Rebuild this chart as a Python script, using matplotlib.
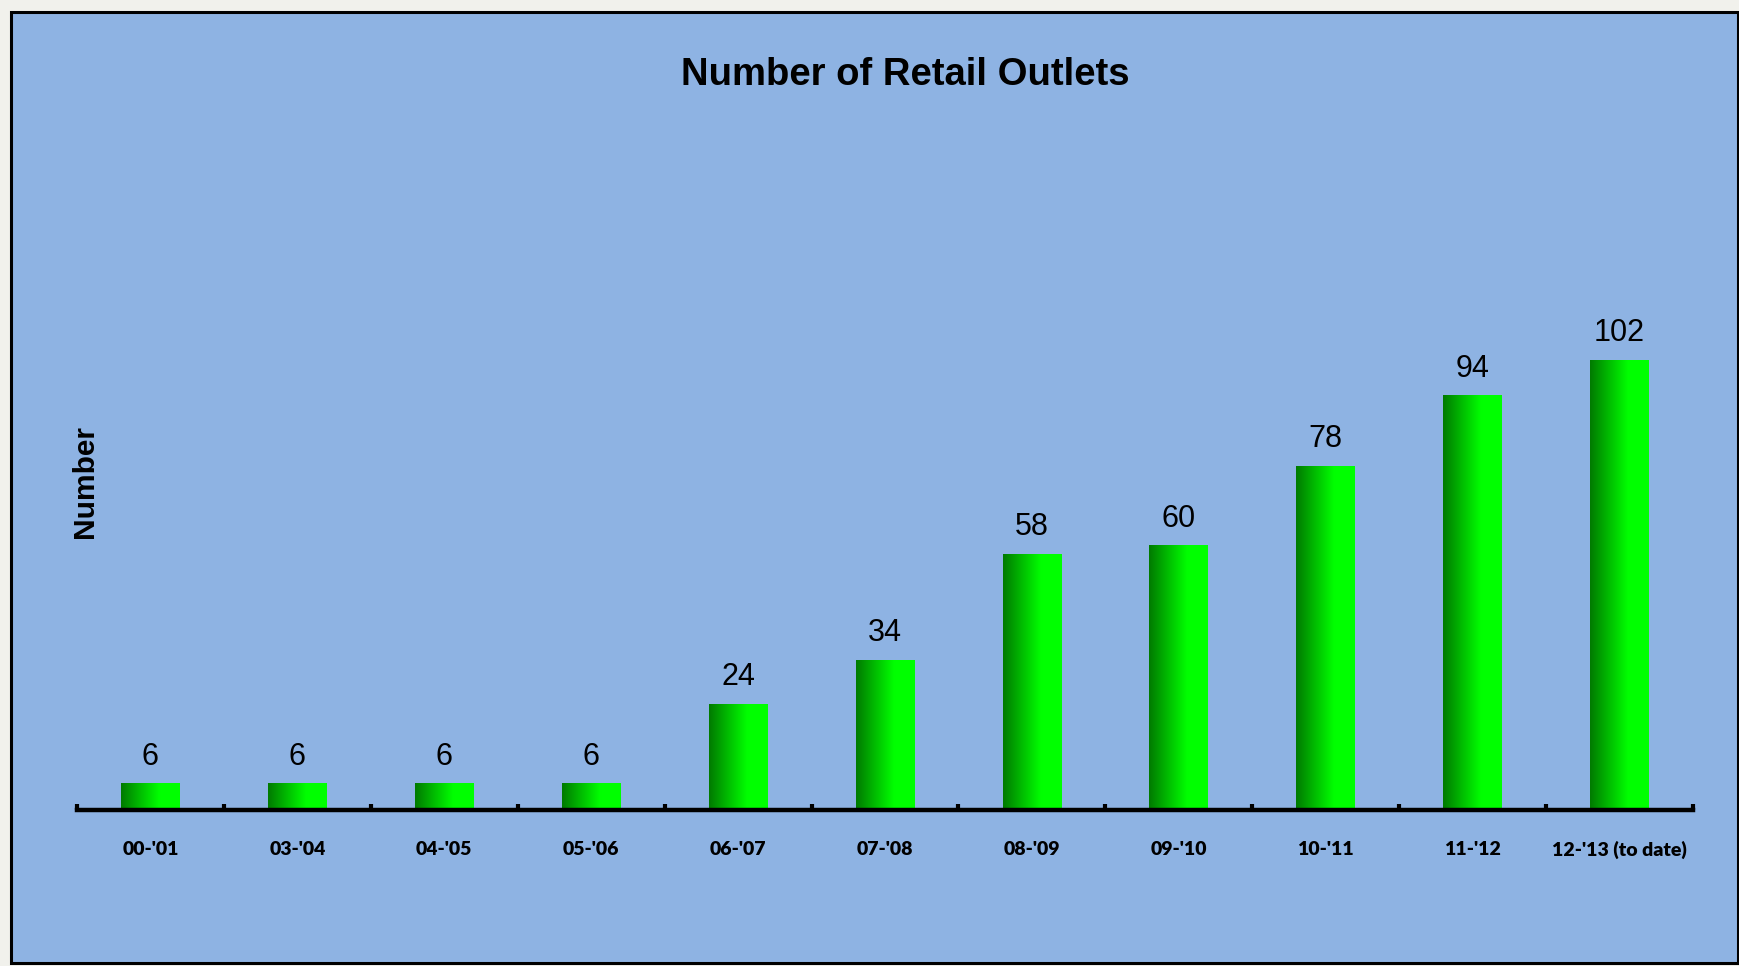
import matplotlib
matplotlib.use("Agg")
import matplotlib.pyplot as plt
import matplotlib.patches as patches
import numpy as np

# data
categories = ["00-'01", "03-'04", "04-'05", "05-'06", "06-'07", "07-'08",
              "08-'09", "09-'10", "10-'11", "11-'12", "12-'13 (to date)"]
outlets = [6, 6, 6, 6, 24, 34, 58, 60, 78, 94, 102]

W, H = 1739, 966
fig = plt.figure(figsize=(W / 100, H / 100), dpi=100)
fig.patch.set_facecolor("#f1f1ec")

# blue panel behind the chart
panel = patches.Rectangle((11 / W, 1 - 963 / H), (1738 - 11) / W, (963 - 12) / H,
                          transform=fig.transFigure, facecolor="#8eb3e3",
                          edgecolor="black", linewidth=2.2, zorder=-5)
fig.patches.append(panel)

ax = fig.add_axes([77 / W, 156 / H, (1693 - 77) / W, 485 / H])
ax.set_facecolor("none")

x = np.arange(len(categories))
bars = ax.bar(x, outlets, width=0.40, color="none", edgecolor="none")

# horizontal green gradient inside each bar
grad = np.linspace(0, 1, 256).reshape(1, -1)
grad = np.clip(grad / 0.65, 0, 1)
cmap = matplotlib.colors.LinearSegmentedColormap.from_list("g", ["#007a00", "#00ff00"])
for b in bars:
    x0, y0 = b.get_x(), b.get_y()
    ax.imshow(grad, extent=[x0, x0 + b.get_width(), y0, y0 + b.get_height()],
              cmap=cmap, aspect="auto", interpolation="bicubic", zorder=2)

for xi, v in zip(x, outlets):
    ax.annotate(str(v), (xi, v), xytext=(0, 8.5), textcoords="offset points",
                ha="center", va="bottom", fontsize=22, family="Liberation Sans")

ax.set_xlim(-0.5, len(categories) - 0.5)
ax.set_ylim(0, 110)

for s in ["top", "right", "left"]:
    ax.spines[s].set_visible(False)
ax.spines["bottom"].set_linewidth(3.2)
ax.spines["bottom"].set_zorder(3)
ax.set_yticks([])

ax.set_xticks(x)
ax.set_xticklabels(categories, fontsize=14, fontweight="heavy", family="Lato")
ax.tick_params(axis="x", which="major", length=0, pad=22)
ax.set_xticks(np.arange(-0.5, len(categories)), minor=True)
ax.tick_params(axis="x", which="minor", direction="in", length=4, width=3)

fig.text(905 / W, 1 - 75 / H, "Number of Retail Outlets", ha="center", va="center",
         fontsize=27.5, fontweight="bold", family="Liberation Sans")
fig.text(85 / W, 1 - 482 / H, "Number", ha="center", va="center", rotation=90,
         fontsize=21.5, fontweight="bold", family="Liberation Sans")

fig.savefig("out.png", dpi=100, facecolor=fig.get_facecolor())
